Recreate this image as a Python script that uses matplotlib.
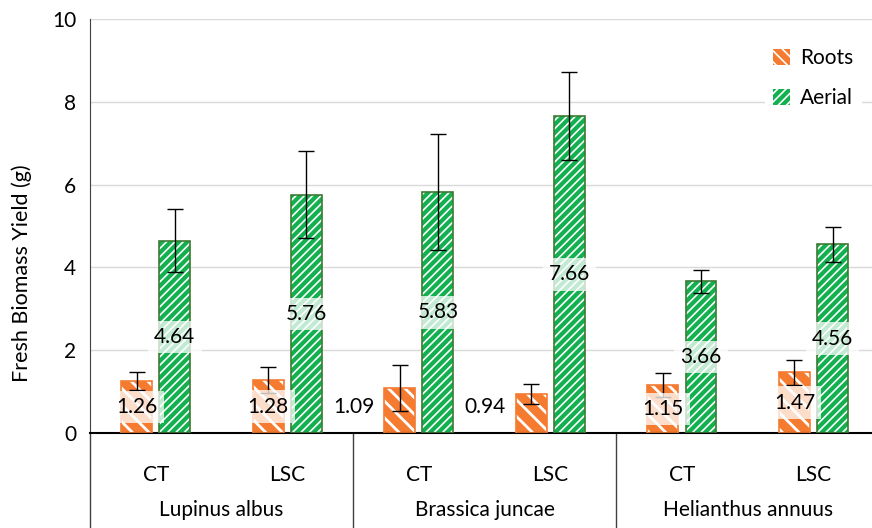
import matplotlib
matplotlib.use("Agg")
import matplotlib.pyplot as plt
import matplotlib.patches as mpatches
import matplotlib.transforms as mtransforms
import numpy as np

plt.rcParams['font.family'] = ['Lato', 'DejaVu Sans']

species = ["Lupinus albus", "Brassica juncae", "Helianthus annuus"]
treatments = ["CT", "LSC", "CT", "LSC", "CT", "LSC"]
roots = [1.26, 1.28, 1.09, 0.94, 1.15, 1.47]
roots_err = [0.22, 0.31, 0.55, 0.25, 0.29, 0.30]
aerial = [4.64, 5.76, 5.83, 7.66, 3.66, 4.56]
aerial_err = [0.76, 1.04, 1.40, 1.07, 0.27, 0.42]

orange = "#F47B30"
green = "#12B04F"
green_edge = "#3E7A34"
fs = 15


def set_hlw(patches, lw):
    for p in patches:
        if hasattr(p, "set_hatch_linewidth"):
            p.set_hatch_linewidth(lw)


fig = plt.figure(figsize=(8.72, 5.28), dpi=100)
ax = fig.add_axes([90 / 872, 95 / 528, 782 / 872, 414 / 528])

x = np.arange(len(treatments))
w = 0.235
off = 0.145

ax.set_axisbelow(True)
ax.yaxis.grid(True, color="#d9d9d9", linewidth=1)

# roots: orange face with white stripes, orange outline
plt.rcParams['hatch.linewidth'] = 2.0
b1 = ax.bar(x - off, roots, w, color=orange, edgecolor="white", hatch="\\" * 2, linewidth=0, zorder=2)
set_hlw(b1, 2.0)
ax.bar(x - off, roots, w, fill=False, edgecolor=orange, linewidth=1.2, zorder=3)
# aerial: green face with white stripes
plt.rcParams['hatch.linewidth'] = 1.2
b2 = ax.bar(x + off, aerial, w, color=green, edgecolor="white", hatch="/" * 4, linewidth=0, zorder=2)
set_hlw(b2, 1.2)
ax.bar(x + off, aerial, w, fill=False, edgecolor=green_edge, linewidth=1.2, zorder=3)

ax.errorbar(x - off, roots, yerr=roots_err, fmt="none", ecolor="black", elinewidth=1, capsize=6, capthick=1, zorder=4)
ax.errorbar(x + off, aerial, yerr=aerial_err, fmt="none", ecolor="black", elinewidth=1, capsize=6, capthick=1, zorder=4)

box = dict(boxstyle="square,pad=0.3", facecolor="white", edgecolor="none", alpha=0.75)
for i, v in enumerate(roots):
    if species[i // 2] == "Brassica juncae":
        ax.text(x[i] - off - 0.35, 0.62, f"{v:.2f}", ha="center", va="center", fontsize=fs, zorder=5)
    else:
        ax.text(x[i] - off, v / 2, f"{v:.2f}", ha="center", va="center", fontsize=fs, bbox=box, zorder=5)
for i, v in enumerate(aerial):
    ax.text(x[i] + off, v / 2, f"{v:.2f}", ha="center", va="center", fontsize=fs, bbox=box, zorder=5)

ax.set_xlim(-0.5, 5.445)
ax.set_ylim(0, 10)
ax.set_yticks([0, 2, 4, 6, 8, 10])
ax.tick_params(axis="y", length=0, labelsize=fs, pad=10)
ax.set_xticks(x)
ax.set_xticklabels(treatments)
ax.tick_params(axis="x", length=0, labelsize=fs, pad=23)
ax.set_ylabel("Fresh Biomass Yield (g)", fontsize=15.5, va="center")
ax.yaxis.set_label_coords(-68 / 782, (433 - 273) / 414)

for s in ["top", "right"]:
    ax.spines[s].set_visible(False)
ax.spines["left"].set_color("#404040")
ax.spines["bottom"].set_color("black")
ax.spines["bottom"].set_linewidth(1.5)

trans = mtransforms.blended_transform_factory(ax.transData, ax.transAxes)
for xs in [-0.5, 1.5, 3.5]:
    ax.plot([xs, xs], [0, -95 / 414], color="#404040", linewidth=1, transform=trans, clip_on=False)
for k, name in enumerate(species):
    ax.text(2 * k + 0.5, -77 / 414, name, ha="center", va="center", fontsize=fs, transform=trans)

h1 = mpatches.Patch(facecolor=orange, edgecolor="white", hatch="\\" * 3, linewidth=0)
h2 = mpatches.Patch(facecolor=green, edgecolor="white", hatch="/" * 4, linewidth=0)
leg = ax.legend([h1, h2], ["Roots", "Aerial"], loc="upper right", bbox_to_anchor=(1.0, 0.975),
                fontsize=fs, frameon=True, facecolor="white", edgecolor="none", framealpha=1,
                handlelength=0.8, handleheight=0.8, labelspacing=0.95, handletextpad=0.5)

fig.savefig("out.png", dpi=100)
